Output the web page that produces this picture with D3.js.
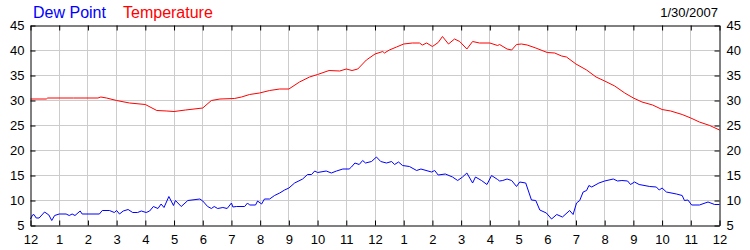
<!DOCTYPE html>
<html>
<head>
<meta charset="utf-8">
<script src="https://cdn.jsdelivr.net/npm/d3@7"></script>
<style>
  body { margin: 0; background: #fff; }
  svg { display: block; font-family: "Liberation Sans", Arial, sans-serif; }
</style>
</head>
<body>
<svg width="750" height="250"></svg>
<script>
// hours since midnight, value in degrees
const temperature = [
  [0, 30.3], [0.55, 30.3], [0.6, 30.5], [1.5, 30.5], [2.35, 30.5], [2.45, 30.7], [2.65, 30.5],
  [3, 30], [3.45, 29.5], [4, 29.2], [4.4, 28], [4.75, 27.9], [5, 27.8], [5.4, 28.1], [6, 28.5],
  [6.3, 30], [6.6, 30.3], [7.1, 30.4], [7.35, 30.7], [7.63, 31.2], [7.98, 31.5], [8.33, 32],
  [8.68, 32.3], [9, 32.3], [9.37, 33.7], [9.72, 34.7], [10, 35.2], [10.4, 36], [10.77, 35.9],
  [11, 36.3], [11.2, 36], [11.4, 36.3], [11.7, 38.1], [12, 39.3], [12.27, 39.8], [12.33, 39.5],
  [12.5, 40.1], [12.75, 40.7], [13, 41.3], [13.3, 41.5], [13.55, 41.5], [13.65, 41.1],
  [13.8, 41.5], [14, 40.8], [14.2, 41.6], [14.35, 42.8], [14.56, 41.3], [14.77, 42.3],
  [14.95, 41.8], [15.2, 40.3], [15.4, 41.8], [15.64, 41.5], [16, 41.5], [16.27, 41],
  [16.34, 41.2], [16.6, 40.3], [16.76, 40.1], [16.93, 41.2], [17.1, 41.3], [17.3, 41.1],
  [17.6, 40.5], [18, 39.6], [18.26, 39.5], [18.5, 38.9], [18.67, 38.7], [19, 37.3],
  [19.37, 36.1], [19.7, 34.7], [20, 33.9], [20.35, 32.9], [20.7, 31.5], [21, 30.5],
  [21.3, 29.7], [21.67, 29.1], [22, 28.2], [22.3, 27.9], [22.7, 27.2], [23, 26.5],
  [23.3, 25.7], [23.66, 25], [24, 24.1]
];

const dewPoint = [
  [0, 6.3], [0.07, 7.1], [0.12, 7.2], [0.2, 6.5], [0.3, 6.5], [0.49, 7.7], [0.64, 7.1],
  [0.74, 6], [0.84, 7], [1, 7.3], [1.24, 7.3], [1.35, 7], [1.45, 7.3], [1.55, 7], [1.73, 7.9],
  [1.8, 7.3], [2.4, 7.3], [2.5, 8], [2.75, 8], [2.92, 7.6], [3, 8], [3.1, 7.3], [3.23, 7.9],
  [3.4, 8.2], [3.56, 7.6], [3.73, 7.6], [3.86, 7.9], [4.03, 7.6], [4.15, 7.9], [4.28, 8.8],
  [4.44, 8.4], [4.55, 9.3], [4.65, 8.6], [4.82, 10.8], [4.98, 9], [5.05, 10], [5.25, 8.8],
  [5.48, 10], [5.9, 10.3], [6, 9.9], [6.17, 8.8], [6.3, 8.4], [6.4, 8.8], [6.52, 8.4],
  [6.7, 8.6], [6.85, 8.4], [7, 9.5], [7.05, 8.7], [7.17, 8.8], [7.46, 8.8], [7.56, 9.5],
  [7.63, 9.1], [7.84, 9.1], [7.91, 9.9], [8.05, 9.3], [8.15, 10.3], [8.33, 10.3], [8.5, 11],
  [8.68, 11.5], [8.85, 12.1], [9, 12.5], [9.2, 13.5], [9.48, 14.3], [9.65, 15.2],
  [9.79, 15.2], [9.9, 15.9], [10, 15.6], [10.3, 15.9], [10.48, 15.5], [10.66, 15.9],
  [10.88, 16.3], [11.1, 16.3], [11.18, 16.7], [11.3, 17.5], [11.45, 17.2], [11.57, 18],
  [11.67, 17.5], [11.88, 17.8], [12.05, 18.7], [12.2, 17.8], [12.4, 17.5], [12.58, 17.8],
  [12.68, 17.2], [12.82, 17.7], [12.96, 17], [13.2, 16.8], [13.45, 16], [13.6, 16.3],
  [13.97, 15.7], [14.08, 16], [14.2, 15.1], [14.45, 15.3], [14.7, 14.7], [14.88, 14],
  [15.05, 14.7], [15.2, 15.5], [15.4, 13.5], [15.5, 14.7], [15.71, 14], [15.9, 13.2],
  [16.06, 15], [16.27, 14.2], [16.34, 13.9], [16.45, 14], [16.6, 14.3], [16.76, 14],
  [16.93, 12.8], [17.04, 13.7], [17.25, 13.5], [17.45, 10.1], [17.6, 10], [17.74, 8.1],
  [17.97, 7.5], [18.15, 6.3], [18.33, 7.2], [18.53, 6.7], [18.78, 8], [18.9, 7.2],
  [19.02, 9.5], [19.13, 10], [19.25, 11.7], [19.37, 12], [19.45, 13], [19.55, 12.7],
  [19.8, 13.5], [20, 13.9], [20.3, 14.3], [20.45, 13.9], [20.6, 14], [20.8, 13.9],
  [20.9, 13.2], [21.04, 13.7], [21.2, 13.2], [21.57, 12.8], [21.8, 12.7], [21.9, 12.1],
  [22, 12.5], [22.15, 11.7], [22.5, 11.3], [22.7, 11], [22.78, 10], [22.9, 10.1],
  [23.03, 9.1], [23.3, 9.1], [23.6, 9.7], [23.83, 9.2], [24, 9.2]
];

const hourLabels = ["12", "1", "2", "3", "4", "5", "6", "7", "8", "9", "10", "11",
  "12", "1", "2", "3", "4", "5", "6", "7", "8", "9", "10", "11", "12"];
const yTicks = [5, 10, 15, 20, 25, 30, 35, 40, 45];
const dateLabel = "1/30/2007";

const svg = d3.select("svg");
const g = svg.append("g").attr("transform", "translate(0.5,0.5)");

const x = d3.scaleLinear().domain([0, 24]).range([30, 719]);
const y = d3.scaleLinear().domain([5, 45]).range([225, 25]);
const hours = d3.range(0, 25);

// grid
g.append("g").selectAll("line").data(hours.slice(1, -1)).join("line")
  .attr("x1", (d) => Math.round(x(d))).attr("x2", (d) => Math.round(x(d)))
  .attr("y1", y(45)).attr("y2", y(5))
  .attr("stroke", "#cccccc");
g.append("g").selectAll("line").data(yTicks.slice(1, -1)).join("line")
  .attr("x1", x(0)).attr("x2", x(24))
  .attr("y1", (d) => y(d)).attr("y2", (d) => y(d))
  .attr("stroke", "#cccccc");

// series
const line = d3.line().x((d) => x(d[0])).y((d) => y(d[1]));
g.append("path").datum(temperature).attr("d", line)
  .attr("fill", "none").attr("stroke", "#ff0000").attr("stroke-width", 1);
g.append("path").datum(dewPoint).attr("d", line)
  .attr("fill", "none").attr("stroke", "#0000ff").attr("stroke-width", 1);

// axes, ticks pointing inward
const tickArgs = (axis) => axis.tickSizeOuter(0).tickSizeInner(-5).tickPadding(8);
const axisBottom = g.append("g").attr("transform", `translate(0,${y(5)})`)
  .call(tickArgs(d3.axisBottom(x).tickValues(hours).tickFormat((d) => hourLabels[d])));
const axisTop = g.append("g").attr("transform", `translate(0,${y(45)})`)
  .call(tickArgs(d3.axisTop(x).tickValues(hours).tickFormat("")));
const axisLeft = g.append("g").attr("transform", `translate(${x(0)},0)`)
  .call(tickArgs(d3.axisLeft(y).tickValues(yTicks)).tickPadding(6));
const axisRight = g.append("g").attr("transform", `translate(${x(24)},0)`)
  .call(tickArgs(d3.axisRight(y).tickValues(yTicks)).tickPadding(7));

[axisBottom, axisTop, axisLeft, axisRight].forEach((a) => {
  a.selectAll(".domain").attr("stroke", "#000");
  a.selectAll(".tick line").attr("stroke", "#000");
  a.selectAll("text").attr("fill", "#000").attr("font-size", 13)
    .attr("font-family", "'Liberation Sans', Arial, sans-serif");
});
axisBottom.selectAll("text").attr("dy", null).attr("y", 0)
  .attr("transform", "translate(0,18)");

// header
svg.append("text").attr("x", 33).attr("y", 18).attr("font-size", 16)
  .attr("fill", "#0000ff").text("Dew Point");
svg.append("text").attr("x", 123).attr("y", 18).attr("font-size", 16)
  .attr("fill", "#ff0000").text("Temperature");
svg.append("text").attr("x", 718).attr("y", 17).attr("font-size", 13)
  .attr("text-anchor", "end").attr("fill", "#000").text(dateLabel);
</script>
</body>
</html>
